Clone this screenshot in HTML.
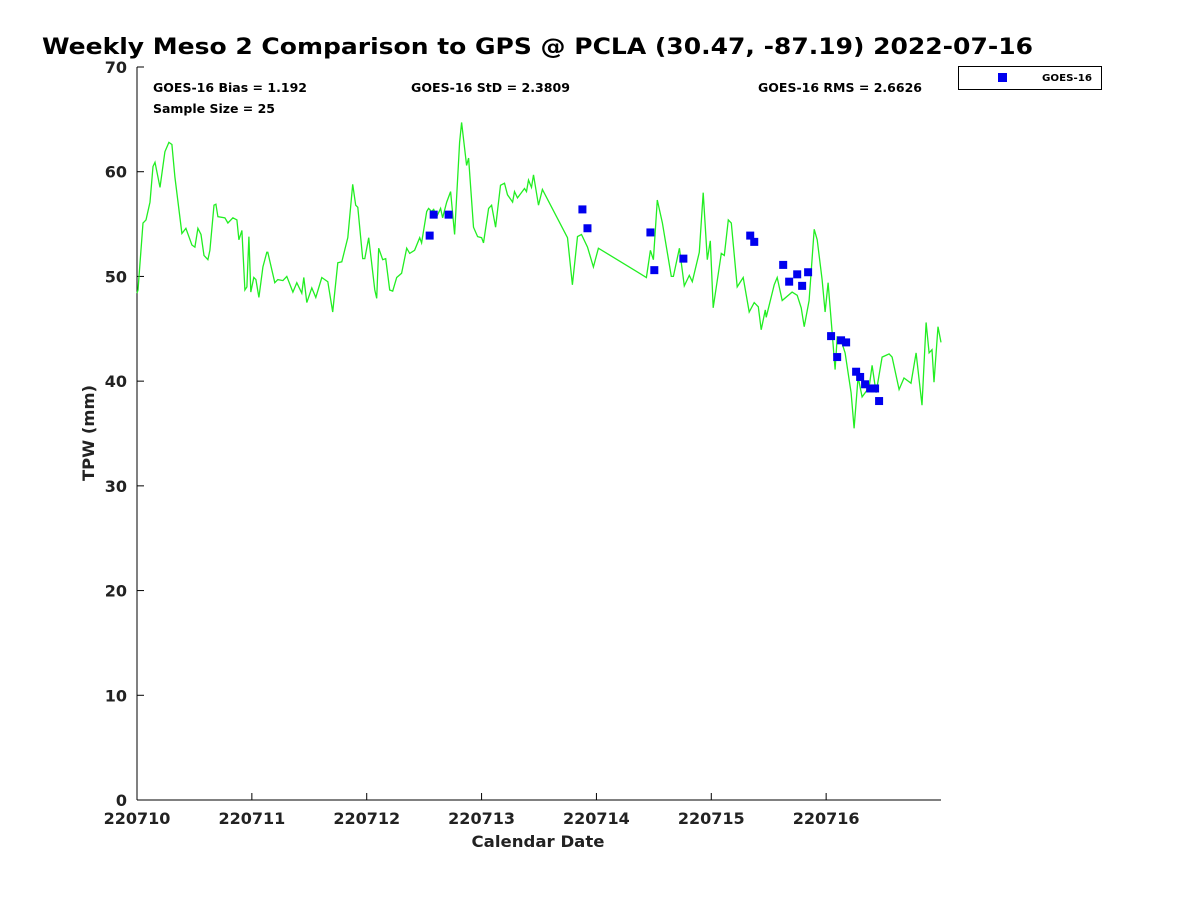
<!DOCTYPE html>
<html><head><meta charset="utf-8"><style>
body{margin:0;background:#fff;}
svg{display:block;font-family:"DejaVu Sans","Liberation Sans",sans-serif;}
</style></head><body>
<svg id="chart" width="1200" height="900" xmlns="http://www.w3.org/2000/svg">
<text x="42" y="54" font-size="22" font-weight="bold" fill="#000" textLength="991" lengthAdjust="spacingAndGlyphs">Weekly Meso 2 Comparison to GPS @ PCLA (30.47, -87.19) 2022-07-16</text>
<text x="153" y="92" font-size="12" font-weight="bold" textLength="154" lengthAdjust="spacingAndGlyphs">GOES-16 Bias = 1.192</text>
<text x="153" y="113" font-size="12" font-weight="bold" textLength="122" lengthAdjust="spacingAndGlyphs">Sample Size = 25</text>
<text x="411" y="92" font-size="12" font-weight="bold" textLength="159" lengthAdjust="spacingAndGlyphs">GOES-16 StD = 2.3809</text>
<text x="758" y="92" font-size="12" font-weight="bold" textLength="164" lengthAdjust="spacingAndGlyphs">GOES-16 RMS = 2.6626</text>
<g>
<rect x="958.5" y="66.5" width="143" height="23" fill="#fff" stroke="#000"/>
<rect x="998" y="73" width="9" height="9" fill="#0000ee"/>
<text x="1042" y="81" font-size="10" font-weight="bold" textLength="50" lengthAdjust="spacingAndGlyphs">GOES-16</text>
</g>
<text x="538" y="847" font-size="16" font-weight="bold" text-anchor="middle" textLength="133" lengthAdjust="spacingAndGlyphs" fill="#222">Calendar Date</text>
<text transform="translate(94,433) rotate(-90)" font-size="16" font-weight="bold" text-anchor="middle" textLength="96" lengthAdjust="spacingAndGlyphs" fill="#222">TPW (mm)</text>
<g id="plot"></g>
</svg>
<script>
const xTickLabels=["220710","220711","220712","220713","220714","220715","220716"];
const yTickValues=[0,10,20,30,40,50,60,70];
const gpsDays=[0,.009,.052,.078,.113,.139,.157,.2,.243,.278,.304,.33,.391,.426,.478,.504,.53,.557,.583,.617,.635,.67,.687,.704,.765,.791,.835,.87,.887,.913,.939,.957,.974,.991,1.017,1.035,1.061,1.096,1.13,1.139,1.2,1.226,1.27,1.304,1.357,1.391,1.435,1.452,1.478,1.522,1.557,1.609,1.661,1.704,1.748,1.783,1.835,1.878,1.904,1.922,1.965,1.983,2.017,2.07,2.087,2.104,2.139,2.165,2.2,2.226,2.261,2.304,2.348,2.374,2.417,2.461,2.478,2.522,2.539,2.565,2.583,2.609,2.643,2.661,2.696,2.73,2.765,2.809,2.826,2.87,2.887,2.93,2.965,3,3.017,3.061,3.087,3.122,3.165,3.2,3.226,3.27,3.287,3.313,3.374,3.391,3.409,3.435,3.452,3.496,3.53,3.748,3.791,3.835,3.87,3.922,3.974,4.017,4.435,4.47,4.496,4.53,4.574,4.652,4.67,4.722,4.765,4.809,4.835,4.896,4.93,4.965,4.991,5.017,5.087,5.113,5.148,5.174,5.226,5.278,5.33,5.374,5.409,5.435,5.47,5.478,5.548,5.574,5.617,5.704,5.748,5.783,5.809,5.852,5.896,5.922,5.965,5.991,6.017,6.052,6.078,6.096,6.13,6.165,6.217,6.243,6.278,6.313,6.374,6.4,6.435,6.487,6.548,6.574,6.635,6.678,6.739,6.783,6.835,6.87,6.896,6.922,6.939,6.974,7];
const gpsTpw=[48.4,48.7,55.1,55.4,57.1,60.5,60.9,58.5,61.9,62.8,62.6,59.5,54.1,54.6,53,52.8,54.6,54,52,51.6,52.5,56.8,56.9,55.7,55.6,55.1,55.6,55.4,53.5,54.4,48.7,49,53.8,48.5,49.9,49.7,48,50.9,52.3,52.3,49.4,49.7,49.6,50,48.5,49.4,48.4,49.9,47.5,48.9,48,49.9,49.5,46.6,51.3,51.4,53.7,58.8,56.8,56.6,51.7,51.7,53.7,48.7,47.9,52.7,51.6,51.7,48.7,48.6,49.9,50.3,52.7,52.2,52.5,53.7,53.2,56.2,56.5,56.2,56.4,55.7,56.5,55.6,57.1,58.1,54,62.8,64.7,60.6,61.3,54.7,53.8,53.7,53.2,56.5,56.8,54.7,58.7,58.9,57.8,57.1,58.1,57.5,58.4,58.1,59.2,58.5,59.7,56.8,58.3,53.7,49.2,53.8,54,52.8,50.9,52.7,49.9,52.5,51.6,57.3,55.1,50,50,52.7,49.1,50.1,49.5,52.3,58,51.6,53.4,47,52.2,52,55.4,55.1,49,49.9,46.6,47.5,47.1,44.9,46.8,46.1,49.2,49.9,47.7,48.5,48.2,47,45.2,47.7,54.5,53.5,49.7,46.6,49.4,44.7,41.1,44.2,43.9,42.7,38.9,35.5,40.4,38.5,39.4,41.5,38.9,42.3,42.6,42.3,39.2,40.3,39.8,42.7,37.7,45.6,42.7,43,39.9,45.2,43.7];
const goesDays=[2.548,2.583,2.713,3.878,3.922,4.47,4.504,4.757,5.339,5.374,5.626,5.678,5.748,5.791,5.843,6.043,6.096,6.13,6.174,6.261,6.296,6.339,6.383,6.426,6.461];
const goesTpw=[53.9,55.9,55.9,56.4,54.6,54.2,50.6,51.7,53.9,53.3,51.1,49.5,50.2,49.1,50.4,44.3,42.3,43.9,43.7,40.9,40.4,39.7,39.3,39.3,38.1];

const NS="http://www.w3.org/2000/svg";
const L=137,R=941,T=67,B=800,XMAX=7,YMAX=70;
const xs=d=>L+(R-L)*d/XMAX;
const ys=v=>B-(B-T)*v/YMAX;
const plot=document.getElementById('plot');
function mk(tag,attrs){const e=document.createElementNS(NS,tag);for(const k in attrs)e.setAttribute(k,attrs[k]);plot.appendChild(e);return e;}

const frameL=mk('line',{x1:L,y1:T,x2:L,y2:B,stroke:'#000'});


const frameB=mk('line',{x1:L,y1:B,x2:R,y2:B,stroke:'#000'});



yTickValues.forEach(v=>{
  const t=mk('line',{x1:L,y1:ys(v),x2:L+7,y2:ys(v),stroke:'#000'});
  
  
  const lb=mk('text',{x:L-10,y:ys(v)+6,'font-size':16,'font-weight':'bold','text-anchor':'end',fill:'#222'});
  lb.textContent=v;
  
  
});
xTickLabels.forEach((s,i)=>{
  const t=mk('line',{x1:xs(i),y1:B,x2:xs(i),y2:B-7,stroke:'#000'});
  
  
  const lb=mk('text',{x:xs(i),y:B+24,'font-size':16,'font-weight':'bold','text-anchor':'middle',fill:'#222'});
  lb.textContent=s;
  
  
});

const pts=gpsDays.map((d,i)=>xs(d).toFixed(1)+','+ys(gpsTpw[i]).toFixed(1)).join(' ');
const line=mk('polyline',{points:pts,fill:'none',stroke:'#22ee22','stroke-width':1.3});



goesDays.forEach((d,i)=>{
  const m=mk('rect',{x:xs(d)-4,y:ys(goesTpw[i])-4,width:8,height:8,fill:'#0000ee'});
  
  
});
</script>
</body></html>
